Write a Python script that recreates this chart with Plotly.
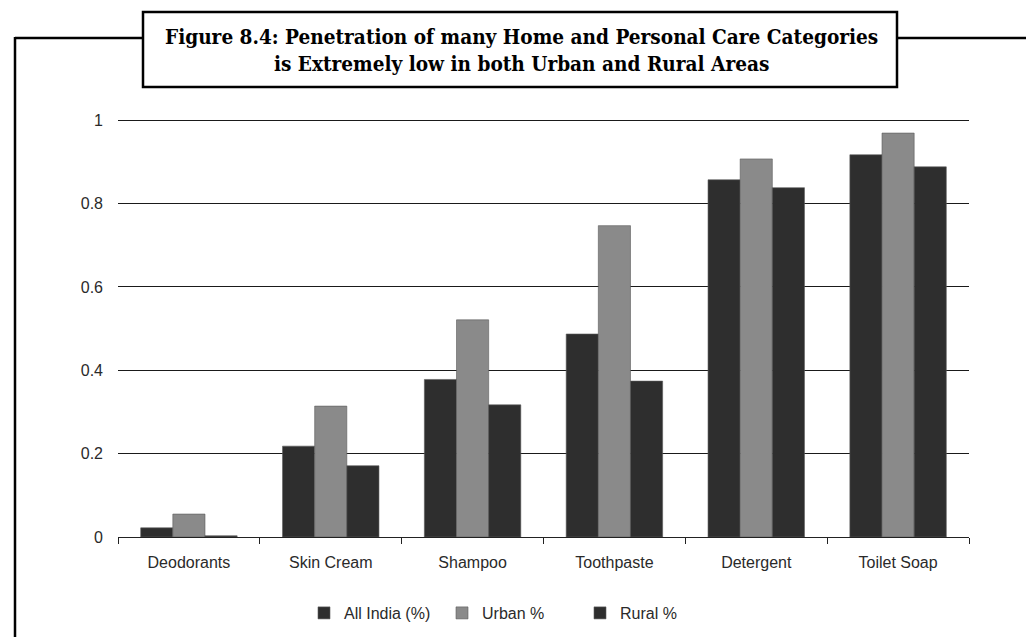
import plotly.graph_objects as go

categories = ["Deodorants", "Skin Cream", "Shampoo", "Toothpaste", "Detergent", "Toilet Soap"]
all_india = [0.022, 0.218, 0.378, 0.487, 0.857, 0.917]
urban = [0.055, 0.314, 0.521, 0.747, 0.907, 0.969]
rural = [0.003, 0.171, 0.317, 0.374, 0.838, 0.888]
y_ticks = [0, 0.2, 0.4, 0.6, 0.8, 1]
y_labels = ["0", "0.2", "0.4", "0.6", "0.8", "1"]

title_lines = [
    "Figure 8.4: Penetration of many Home and Personal Care Categories",
    "is Extremely low in both Urban and Rural Areas",
]

DARK = "#2e2e2e"
GREY = "#8a8a8a"

fig = go.Figure()
for name, vals, col in [("All India (%)", all_india, DARK), ("Urban %", urban, GREY), ("Rural %", rural, DARK)]:
    fig.add_trace(go.Bar(
        x=categories, y=vals, name=name,
        marker=dict(color=col, line=dict(color="#5a5a5a", width=0.6)),
    ))

# page has an 8px body margin, so the figure is drawn 8px lower/right
OFF = 8
W, H = 1034 - OFF, 637 - OFF
YMAX = 1.01
L, R = 118 - OFF, 969 - OFF
B = 537 - OFF
unit = 417
T = round(B - unit * YMAX)
pw, ph = R - L, B - T

def px(x):
    # screen x -> paper x
    return (x - OFF - L) / pw

def py(y):
    # screen y -> paper y
    return (B - (y - OFF)) / ph

shapes = []
frame = dict(type="line", xref="paper", yref="paper", line=dict(color="black", width=2.5))
# outer frame, broken by the title box
shapes.append(dict(frame, x0=px(15), x1=px(144), y0=py(38), y1=py(38)))
shapes.append(dict(frame, x0=px(896), x1=px(1028), y0=py(38), y1=py(38)))
shapes.append(dict(frame, x0=px(15), x1=px(15), y0=py(37), y1=py(660)))
shapes.append(dict(frame, x0=px(1028), x1=px(1028), y0=py(37), y1=py(660)))
# title box
shapes.append(dict(type="rect", xref="paper", yref="paper",
                   x0=px(143), x1=px(897), y0=py(87), y1=py(12),
                   line=dict(color="black", width=2.5), fillcolor="white"))

fig.update_layout(
    width=W, height=H,
    margin=dict(l=L, r=W - R, t=T, b=H - B, pad=0, autoexpand=False),
    paper_bgcolor="white", plot_bgcolor="white",
    barmode="group", bargap=0.32, bargroupgap=0,
    font=dict(family="Liberation Sans, Arial, sans-serif", size=16, color="#2a2a2a"),
    shapes=shapes,
    showlegend=True,
    legend=dict(orientation="h", x=px(304), xanchor="left", y=py(613), yanchor="middle",
                font=dict(size=16, color="#2a2a2a"), entrywidth=93, entrywidthmode="pixels",
                itemwidth=30, traceorder="normal"),
    annotations=[dict(
        xref="paper", yref="paper", x=px(521), y=py(51), xanchor="center", yanchor="middle",
        text="<b>" + title_lines[0] + "</b><br><b>" + title_lines[1] + "</b>",
        showarrow=False, align="center",
        font=dict(family="DejaVu Serif Condensed, DejaVu Serif, serif", size=20.6, color="black"),
    )],
)

fig.update_xaxes(
    showgrid=False, showline=True, linecolor="#222", linewidth=1,
    ticks="outside", tickson="boundaries", ticklen=6, tickcolor="#222",
    ticklabelstandoff=11, automargin=False,
)
fig.update_yaxes(
    range=[0, YMAX], tickvals=y_ticks, ticktext=y_labels,
    showgrid=True, gridcolor="#1a1a1a", gridwidth=1,
    zeroline=False, showline=False, ticks="", ticklabelstandoff=14, automargin=False,
)

fig.write_html("out.html")
